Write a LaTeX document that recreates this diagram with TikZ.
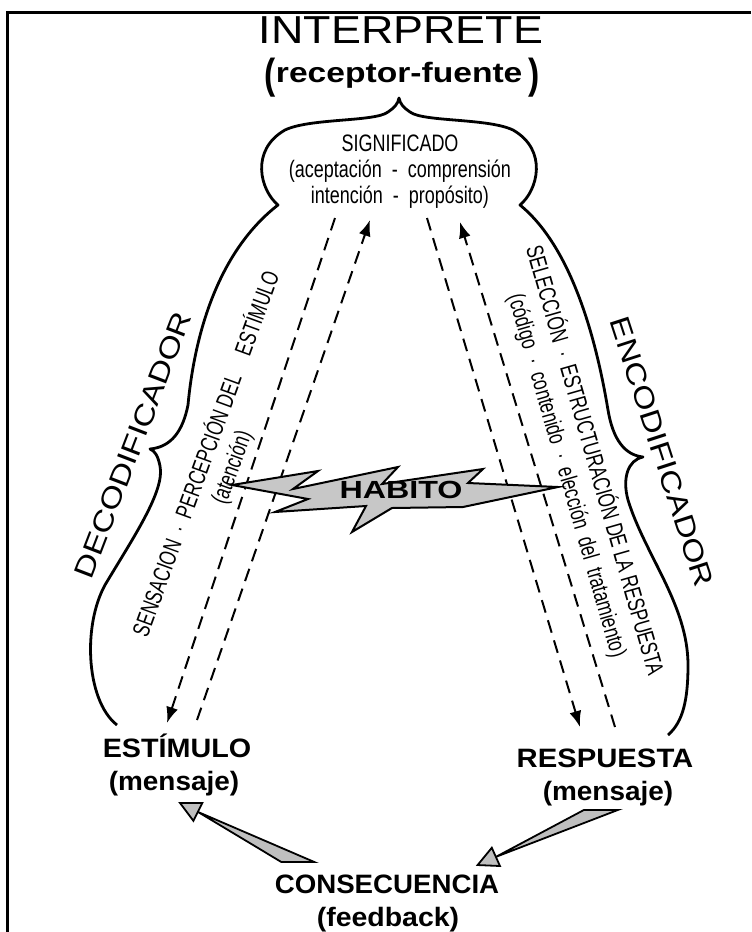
\documentclass[tikz,border=0pt]{standalone}
\usepackage{fontspec}
\setmainfont{Liberation Sans}
\usetikzlibrary{arrows.meta, calc}

\tikzset{
  title/.style={font=\fontsize{19.5}{22}\selectfont, inner sep=0pt, anchor=base},
  tag/.style={font=\bfseries\fontsize{13.3}{16}\selectfont, inner sep=0pt, anchor=base},
  narrow/.style={font=\fontsize{11.9}{13}\selectfont, inner sep=0pt, xscale=0.72},
  side/.style={font=\fontsize{14}{16}\selectfont, inner sep=0pt, xscale=1.2},
  outline/.style={line width=1.4pt, line join=round},
  dashline/.style={line width=1pt, dash pattern=on 6.5pt off 4pt},
  bolt/.style={draw, line width=1pt, fill=black!22, line join=miter},
  feed/.style={draw, line width=0.9pt, fill=black!25, line join=miter}
}

% wedge arrow: tail corners #1 and #2, tip #3
\newcommand{\feedarrow}[3]{%
  \coordinate (fbMid) at ($(#1)!0.5!(#2)$);
  \coordinate (fbBase) at ($(#3)!10pt!(fbMid)$);
  \filldraw[feed] (#1) -- (#2) -- (fbBase) -- cycle;
  \filldraw[feed] (#3) -- ($(fbBase)!5pt!90:(#3)$) -- ($(fbBase)!5pt!-90:(#3)$) -- cycle;}

\newcommand{\bigparen}[1]{\raisebox{-3pt}{\scalebox{1}[1.5]{#1}}}

\begin{document}
\begin{tikzpicture}[x=0.5pt, y=-0.5pt]
\useasboundingbox (0,0) rectangle (751,932);
% frame (top and left edge only)
\draw[line width=1.5pt] (751,12) -- (7,12) -- (7,932);

% headings
\node[title, xscale=1.15] (interp) at (401,43) {INTERPRETE};
\node[tag, font=\bfseries\fontsize{14}{16}\selectfont, xscale=1.2] (recfue) at (402,82) {\bigparen{(}receptor-fuente\,\bigparen{)}};

% outline of the interpreter, with its two braces
\draw[outline] (117,725)
  .. controls (85,700) and (82,620) .. (108,580)
  .. controls (135,535) and (165,490) .. (160,466)
  .. controls (158,456) and (155,451) .. (150,449)
  .. controls (172,447) and (183,430) .. (188,405)
  .. controls (195,330) and (220,250) .. (278,205)
  .. controls (260,190) and (250,150) .. (285,130)
  .. controls (310,118) and (375,122) .. (388,112)
  .. controls (394,108) and (398,104) .. (399,98)
  .. controls (400,104) and (404,108) .. (410,112)
  .. controls (423,122) and (488,118) .. (513,130)
  .. controls (548,150) and (538,190) .. (520,205)
  .. controls (575,250) and (598,350) .. (608,410)
  .. controls (613,440) and (625,455) .. (643,457)
  .. controls (628,460) and (622,478) .. (628,500)
  .. controls (645,555) and (688,605) .. (688,665)
  .. controls (688,700) and (683,722) .. (668,735);

\node[narrow, xscale=1.05, align=center] (sig) at (400,172) {SIGNIFICADO\\(aceptación \ - \ comprensión\\intención \ - \ propósito)};

\node[rotate=69, side] (decod) at (133,445) {DECODIFICADOR};
\node[rotate=-72, side] (encod) at (662,452) {ENCODIFICADOR};

\node[rotate=70, narrow] (sens) at (204,453) {SENSACION \ · \ PERCEPCIÓN DEL \quad ESTÍMULO};
\node[rotate=70, narrow] (aten) at (233,468) {(atención)};
\node[rotate=-74, narrow] (selec) at (597,460) {SELECCIÓN \ · \ ESTRUCTURACIÓN DE LA RESPUESTA};
\node[rotate=-74, narrow] (codigo) at (566,476) {(código \ · \ contenido \ · \ elección \ del \ tratamiento)};

% dashed paths
\coordinate (aTop) at (335,218);
\coordinate (aBot) at (167,723);
\coordinate (bTop) at (370,220);
\coordinate (bBot) at (197,720);
\coordinate (cTop) at (427,218);
\coordinate (cBot) at (580,727);
\coordinate (dTop) at (460,222);
\coordinate (dBot) at (615,727);
\draw[dashline, -{Latex[length=8pt,width=6pt]}] (aTop) -- (aBot);
\draw[dashline, -{Latex[length=8pt,width=6pt]}] (bBot) -- (bTop);
\draw[dashline, -{Latex[length=8pt,width=6pt]}] (cTop) -- (cBot);
\draw[dashline, -{Latex[length=8pt,width=6pt]}] (dBot) -- (dTop);

% lightning
\filldraw[bolt] (232,485) -- (318,471) -- (293,489) -- (398,467) -- (382,484)
  -- (483,469) -- (468,483) -- (558,487) -- (463,507) -- (392,508) -- (352,532)
  -- (366,506) -- (275,512) -- (308,499) -- cycle;
\node[tag, font=\bfseries\fontsize{12.4}{14}\selectfont, anchor=center, xscale=1.3] (habito) at (401,490) {HABITO};

% message ends
\node[tag, xscale=1.08] (estim) at (177,757) {ESTÍMULO};
\node[tag, xscale=1.05] (lmsg) at (174,790) {(mensaje)};
\node[tag, xscale=1.1] (resp) at (605,767) {RESPUESTA};
\node[tag, xscale=1.05] (rmsg) at (608,800) {(mensaje)};
\node[tag, xscale=1.04] (cons) at (387,893) {CONSECUENCIA};
\node[tag, xscale=1.07] (feedb) at (388,926) {(feedback)};

% feedback arrows
\coordinate (lfTailA) at ($(cons.north west)+(7,-12)$);
\coordinate (lfTailB) at ($(cons.north west)+(40,-12)$);
\coordinate (lfTip) at ($(lmsg.south)+(6,7)$);
\coordinate (rfTailA) at ($(rmsg.south)+(-24,4)$);
\coordinate (rfTailB) at ($(rmsg.south)+(10,4)$);
\coordinate (rfTip) at ($(cons.north east)+(-22,-9)$);
\feedarrow{lfTailA}{lfTailB}{lfTip}
\feedarrow{rfTailA}{rfTailB}{rfTip}
\end{tikzpicture}
\end{document}
